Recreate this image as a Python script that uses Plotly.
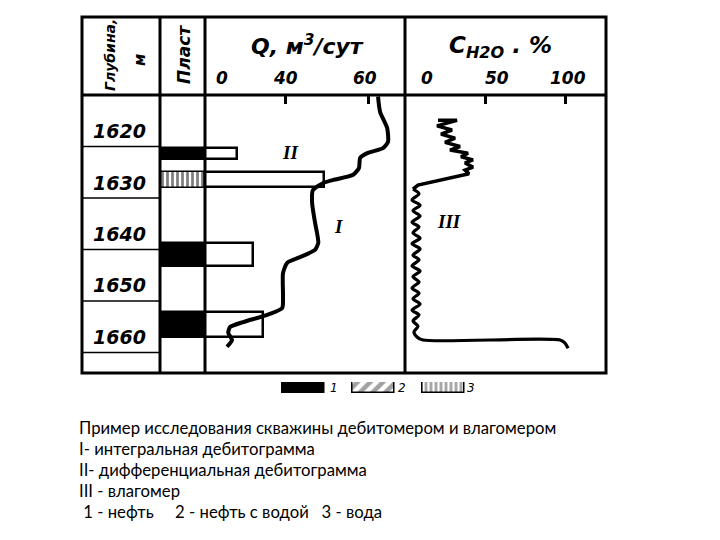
import plotly.graph_objects as go

OFF = 8  # default page body margin
W, H = 720 - OFF, 540 - OFF
def px(x): return (x - OFF) / W
def py(y): return 1 - (y - OFF) / H

# ---------------- data ----------------
depth_ticks = [1620, 1630, 1640, 1650, 1660]
depth_grid = [1623, 1633, 1643, 1653, 1663]
DEPTH_TOP, DEPTH_BOTTOM = 1613.0, 1667.0

# layers (Пласт): top, bottom, type (1 - нефть, 3 - вода)
layer_top = [1623.3, 1628.0, 1641.7, 1655.1]
layer_bot = [1625.6, 1631.1, 1646.4, 1660.2]
layer_type = [1, 3, 1, 1]

# differential debitogram II (bar lengths, m3/сут) at layer intervals
diff_top = [1623.3, 1628.0, 1641.7, 1655.1]
diff_bot = [1625.4, 1630.9, 1646.2, 1660.0]
diff_q = [7.7, 28.7, 11.6, 14.0]
Q_MIN, Q_MAX = 20.7, 68.9

# integral debitogram I
int_depth = [1613.3, 1616.3, 1619.4, 1622.1, 1623.3, 1624.3, 1625.2, 1627.2, 1628.5,
             1629.5, 1630.1, 1631.5, 1633.8, 1637.7, 1639.8, 1641.7, 1643.1, 1644.5,
             1645.6, 1647.6, 1652.2, 1654.4, 1655.7, 1657.1, 1658.1, 1659.2, 1660.6, 1661.9]
int_q = [62.4, 62.9, 64.6, 64.8, 63.6, 59.8, 58.1, 57.8, 56.4,
         51.6, 49.2, 46.7, 46.5, 47.2, 47.7, 48.0, 47.2, 43.6,
         40.5, 39.5, 39.5, 39.3, 35.7, 29.9, 26.7, 26.3, 27.2, 26.0]

# water cut III (влагомер), upper jagged part
cw_top_depth = [1617.9, 1617.9, 1619.0, 1619.8, 1620.6, 1621.4, 1622.2, 1623.0, 1623.7,
                1624.3, 1625.0, 1625.6, 1626.2, 1627.0, 1627.6, 1628.3, 1630.5, 1631.3]
cw_top_val = [20.6, 32.5, 20.0, 29.4, 22.5, 31.3, 25.0, 34.4, 28.1,
              39.4, 35.0, 42.5, 37.5, 42.5, 37.5, 40.0, 8.1, 5.0]
# lower wavy part
cw_wave_depth = [1631.3, 1632.2, 1633.4, 1634.4, 1635.5, 1636.5, 1637.7, 1638.6, 1639.8,
                 1640.8, 1641.9, 1642.9, 1644.1, 1645.0, 1646.2, 1647.2, 1648.3, 1649.3,
                 1650.5, 1651.5, 1652.6, 1653.6, 1654.8, 1655.7, 1656.9, 1657.9, 1659.0,
                 1660.0, 1660.6, 1660.6, 1661.2, 1662.2]
cw_wave_val = [5.0, 8.75, 4.4, 9.4, 5.0, 9.4, 4.4, 8.75, 5.0,
               9.4, 4.4, 9.4, 5.0, 8.75, 4.4, 9.4, 5.0, 8.75,
               4.4, 8.75, 5.0, 9.4, 4.4, 8.75, 5.0, 8.1, 5.6,
               7.5, 11.25, 96.9, 100.0, 101.9]
CW_MAX = 125.6

legend_pos = [0.5, 1.5, 2.5]
legend_shapes = ["", "/", "|"]
legend_colors = ["black", "white", "white"]
legend_text = ["1", "2", "3"]

caption = [
    "Пример исследования скважины дебитомером и влагомером",
    "I- интегральная дебитограмма",
    "II- дифференциальная дебитограмма",
    "III - влагомер",
    "&nbsp;1 - нефть &nbsp;&nbsp;&nbsp; 2 - нефть с водой &nbsp; 3 - вода",
]

# ---------------- figure ----------------
fig = go.Figure()

# layers in Пласт column
for t, b, k in zip(layer_top, layer_bot, layer_type):
    fig.add_trace(go.Bar(
        x=[1], y=[(t + b) / 2], width=[b - t], base=0, orientation="h",
        xaxis="x2", yaxis="y",
        marker=dict(color="black" if k == 1 else "white",
                    line=dict(color="black", width=1.5),
                    pattern=dict(shape="" if k == 1 else "|", fgcolor="black",
                                 bgcolor="white", size=5, solidity=0.55)),
        showlegend=False, hoverinfo="skip"))

# differential bars II
fig.add_trace(go.Bar(
    x=diff_q, y=[(t + b) / 2 for t, b in zip(diff_top, diff_bot)],
    width=[b - t for t, b in zip(diff_top, diff_bot)], base=Q_MIN, orientation="h",
    xaxis="x3", yaxis="y",
    marker=dict(color="white", line=dict(color="black", width=2.5)),
    showlegend=False, hoverinfo="skip"))

# integral curve I
fig.add_trace(go.Scatter(x=int_q, y=int_depth, xaxis="x3", yaxis="y", mode="lines",
                         line=dict(color="black", width=4, shape="spline", smoothing=0.6),
                         showlegend=False))

# water cut III
fig.add_trace(go.Scatter(x=cw_top_val, y=cw_top_depth, xaxis="x4", yaxis="y", mode="lines",
                         line=dict(color="black", width=3.5), showlegend=False))
fig.add_trace(go.Scatter(x=cw_wave_val, y=cw_wave_depth, xaxis="x4", yaxis="y", mode="lines",
                         line=dict(color="black", width=3.2, shape="spline", smoothing=0.8),
                         showlegend=False))

# legend keys
fig.add_trace(go.Bar(x=legend_pos, y=[1, 1, 1], width=0.614, xaxis="x5", yaxis="y2",
                     marker=dict(color=legend_colors, line=dict(color="black", width=1.5),
                                 pattern=dict(shape=legend_shapes, fgcolor="black",
                                              bgcolor="white", size=[7, 9, 5],
                                              solidity=[0.5, 0.5, 0.55])),
                     showlegend=False, hoverinfo="skip"))

ydom = [py(373), py(95)]
common_x = dict(showgrid=False, zeroline=False, showticklabels=False, fixedrange=True)
fig.update_layout(
    width=W, height=H, autosize=False,
    margin=dict(l=0, r=0, t=0, b=0),
    paper_bgcolor="white", plot_bgcolor="white",
    barmode="overlay", bargap=0,
    xaxis=dict(domain=[px(82), px(160)], range=[0, 1], anchor="y", **common_x),
    xaxis2=dict(domain=[px(160), px(205)], range=[0, 1], anchor="y", **common_x),
    xaxis3=dict(domain=[px(205), px(405)], range=[Q_MIN, Q_MAX], anchor="y", side="top",
                tickvals=[40, 60], ticks="inside", ticklen=9, tickwidth=2.5,
                tickcolor="black", **common_x),
    xaxis4=dict(domain=[px(405), px(606)], range=[0, CW_MAX], anchor="y", side="top",
                tickvals=[50, 100], ticks="inside", ticklen=9, tickwidth=2.5,
                tickcolor="black", **common_x),
    yaxis=dict(domain=ydom, range=[DEPTH_BOTTOM, DEPTH_TOP], anchor="x",
               showgrid=False, zeroline=False, showticklabels=False, fixedrange=True),
    xaxis5=dict(domain=[px(268.5), px(478.5)], range=[0, 3], anchor="y2", visible=False),
    yaxis2=dict(domain=[py(393), py(382)], range=[0, 1], anchor="x5", visible=False),
)

shapes = []
LW = 3
shapes.append(dict(type="rect", xref="paper", yref="paper", x0=px(82), x1=px(606),
                   y0=py(373), y1=py(17), line=dict(color="black", width=LW)))
shapes.append(dict(type="line", xref="paper", yref="paper", x0=px(82), x1=px(606),
                   y0=py(95), y1=py(95), line=dict(color="black", width=LW)))
for xv in [160, 205, 405]:
    shapes.append(dict(type="line", xref="paper", yref="paper", x0=px(xv), x1=px(xv),
                       y0=py(373), y1=py(17), line=dict(color="black", width=LW)))
for d in depth_grid:
    shapes.append(dict(type="line", xref="x", yref="y", x0=0, x1=1, y0=d, y1=d,
                       line=dict(color="black", width=1.5)))
fig.update_layout(shapes=shapes)

ann = []
def A(text, x, y, size, family="DejaVu Sans", angle=0, xanchor="center"):
    ann.append(dict(x=px(x), y=py(y), xref="paper", yref="paper", text=text,
                    textangle=angle, xanchor=xanchor, yanchor="middle", showarrow=False,
                    font=dict(family=family, size=size, color="black")))

for d in depth_ticks:
    ann.append(dict(x=0.48, y=d, xref="x", yref="y", text=f"<b><i>{d}</i></b>",
                    xanchor="center", yanchor="middle",
                    showarrow=False, font=dict(family="DejaVu Sans", size=19, color="black")))
A("<b><i>Глубина,</i></b>", 110, 55, 14, angle=-90)
A("<b><i>м</i></b>", 140, 60, 15, angle=-90)
A("<b><i>Пласт</i></b>", 184, 55, 17, angle=-90)
A("<b><i>Q, м<sup>3</sup>/сут</i></b>", 307, 45, 22)
A("<b><i>C<sub>H2O</sub> . %</i></b>", 500, 47, 23)
for t, xx in zip(["0", "40", "60"], [222, 285, 365]):
    A(f"<b><i>{t}</i></b>", xx, 78, 17)
for t, xx in zip(["0", "50", "100"], [427, 497, 568]):
    A(f"<b><i>{t}</i></b>", xx, 78, 17)
for t, xx, yy in [("II", 290, 152), ("I", 338, 226), ("III", 449, 222)]:
    A(f"<b><i>{t}</i></b>", xx, yy, 19, family="Liberation Serif")
for t, xx in zip(legend_text, [334, 402, 471]):
    A(f"<i>{t}</i>", xx, 388, 12)
for i, line in enumerate(caption):
    A(line, 77, 428 + i * 21, 16.7, family="Lato", xanchor="left")
fig.update_layout(annotations=ann)

fig.write_html("out.html")
